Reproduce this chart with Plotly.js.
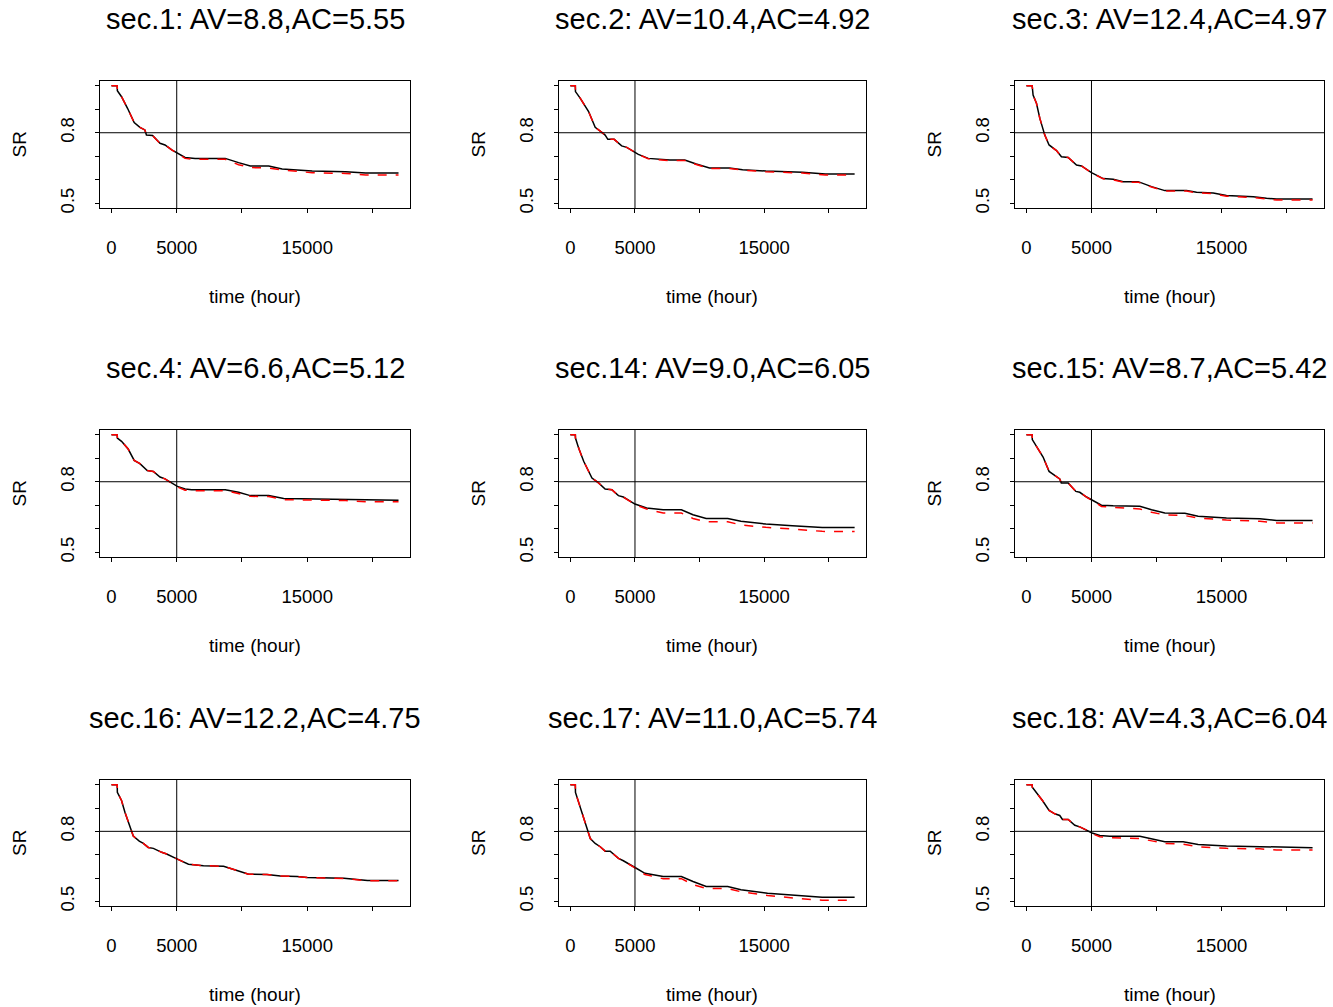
<!DOCTYPE html>
<html>
<head>
<meta charset="utf-8">
<script src="https://cdn.plot.ly/plotly-3.0.1.min.js"></script>
<style>html,body{margin:0;padding:0;background:#fff;}#chart{width:1333px;height:1007px;}</style>
</head>
<body>
<div id="chart"></div>
<script>
// ---- data ----
const panelTitles = ["sec.1: AV=8.8,AC=5.55", "sec.2: AV=10.4,AC=4.92", "sec.3: AV=12.4,AC=4.97",
                     "sec.4: AV=6.6,AC=5.12", "sec.14: AV=9.0,AC=6.05", "sec.15: AV=8.7,AC=5.42",
                     "sec.16: AV=12.2,AC=4.75", "sec.17: AV=11.0,AC=5.74", "sec.18: AV=4.3,AC=6.04"];
const xTickVals = [0, 5000, 10000, 15000, 20000];
const xTickText = ["0", "5000", "", "15000", ""];
const yTickVals = [0.5, 0.6, 0.7, 0.8, 0.9, 1.0];
const yTickText = ["0.5", "", "", "0.8", "", ""];
const xTitle = "time (hour)";
const yTitle = "SR";
const refTime = 5000;
const refSR = 0.8;

const sec1_t   = [0, 440, 450, 770, 1230, 1740, 2180, 2560, 2680, 3150, 3720, 4100, 4620, 5050, 5640, 6410, 8720, 9740, 10640, 12050, 13080, 15380, 17950, 19490, 22000];
const sec1_obs = [1.0, 1.0, 0.979, 0.953, 0.904, 0.843, 0.823, 0.812, 0.79, 0.788, 0.755, 0.748, 0.727, 0.715, 0.695, 0.691, 0.691, 0.673, 0.659, 0.659, 0.646, 0.637, 0.634, 0.629, 0.629];
const sec1_est = [1.0, 1.0, 0.979, 0.953, 0.904, 0.843, 0.823, 0.812, 0.79, 0.788, 0.755, 0.748, 0.727, 0.712, 0.691, 0.687, 0.687, 0.664, 0.652, 0.650, 0.642, 0.630, 0.627, 0.620, 0.620];

const sec2_t   = [0, 385, 395, 770, 1410, 1920, 2310, 2690, 2900, 3390, 3970, 4360, 5260, 6030, 7690, 8850, 9740, 10770, 12310, 13330, 15130, 17950, 19740, 22000];
const sec2_obs = [1.0, 1.0, 0.975, 0.946, 0.89, 0.823, 0.807, 0.79, 0.772, 0.772, 0.744, 0.738, 0.708, 0.691, 0.684, 0.684, 0.667, 0.65, 0.65, 0.643, 0.637, 0.632, 0.625, 0.625];
const sec2_est = [1.0, 1.0, 0.975, 0.946, 0.89, 0.823, 0.807, 0.79, 0.772, 0.772, 0.744, 0.738, 0.708, 0.689, 0.681, 0.682, 0.665, 0.648, 0.648, 0.641, 0.634, 0.629, 0.620, 0.620];

const sec3_t   = [0, 440, 510, 770, 1030, 1410, 1740, 2310, 2690, 3210, 3850, 4230, 5000, 5900, 6670, 7440, 8590, 9620, 10640, 12310, 13080, 14360, 15380, 17440, 18460, 19230, 22000];
const sec3_obs = [1.0, 1.0, 0.96, 0.925, 0.861, 0.79, 0.748, 0.724, 0.698, 0.695, 0.663, 0.659, 0.63, 0.605, 0.602, 0.592, 0.592, 0.571, 0.554, 0.554, 0.547, 0.544, 0.533, 0.528, 0.521, 0.518, 0.518];
const sec3_est = [1.0, 1.0, 0.96, 0.925, 0.861, 0.79, 0.748, 0.724, 0.698, 0.695, 0.663, 0.659, 0.63, 0.604, 0.600, 0.590, 0.590, 0.569, 0.552, 0.552, 0.545, 0.541, 0.530, 0.525, 0.518, 0.514, 0.514];

const sec4_t   = [0, 440, 450, 770, 1280, 1740, 2180, 2740, 3210, 3720, 4100, 4620, 5050, 5640, 6150, 8720, 9740, 10640, 12050, 13200, 15380, 17950, 19490, 22000];
const sec4_obs = [1.0, 1.0, 0.986, 0.972, 0.939, 0.891, 0.877, 0.848, 0.844, 0.82, 0.812, 0.795, 0.78, 0.769, 0.766, 0.766, 0.755, 0.741, 0.741, 0.729, 0.727, 0.725, 0.721, 0.721];
const sec4_est = [1.0, 1.0, 0.986, 0.972, 0.939, 0.891, 0.877, 0.848, 0.844, 0.82, 0.812, 0.795, 0.778, 0.764, 0.762, 0.762, 0.749, 0.738, 0.737, 0.724, 0.722, 0.720, 0.715, 0.715];

const sec14_t   = [0, 385, 395, 640, 1030, 1670, 2180, 2690, 3210, 3720, 4100, 5000, 5900, 7180, 8590, 9490, 10510, 12180, 13200, 15130, 17180, 18200, 19490, 22000];
const sec14_obs = [1.0, 1.0, 0.986, 0.943, 0.887, 0.816, 0.795, 0.769, 0.766, 0.741, 0.735, 0.705, 0.688, 0.681, 0.681, 0.66, 0.644, 0.644, 0.632, 0.62, 0.613, 0.61, 0.605, 0.605];
const sec14_est = [1.0, 1.0, 0.986, 0.943, 0.887, 0.816, 0.795, 0.769, 0.766, 0.741, 0.735, 0.703, 0.684, 0.667, 0.667, 0.644, 0.63, 0.63, 0.616, 0.606, 0.599, 0.595, 0.589, 0.588];

const sec15_t   = [0, 440, 450, 770, 1280, 1740, 2180, 2560, 2680, 3210, 3800, 4100, 4620, 5050, 5770, 6670, 8720, 9620, 10640, 12180, 13200, 15380, 17950, 19230, 22000];
const sec15_obs = [1.0, 1.0, 0.979, 0.95, 0.905, 0.844, 0.826, 0.812, 0.795, 0.795, 0.759, 0.755, 0.735, 0.721, 0.70, 0.698, 0.696, 0.681, 0.667, 0.666, 0.653, 0.646, 0.643, 0.635, 0.635];
const sec15_est = [1.0, 1.0, 0.979, 0.95, 0.905, 0.844, 0.826, 0.812, 0.795, 0.795, 0.759, 0.755, 0.735, 0.719, 0.695, 0.691, 0.684, 0.67, 0.659, 0.656, 0.646, 0.637, 0.632, 0.625, 0.625];

const sec16_t   = [0, 440, 450, 770, 1030, 1360, 1670, 2130, 2440, 2820, 3210, 3850, 4230, 5050, 5900, 7050, 8590, 9620, 10510, 11920, 12950, 14230, 15000, 17820, 18850, 19620, 22000];
const sec16_obs = [1.0, 1.0, 0.967, 0.932, 0.882, 0.833, 0.78, 0.758, 0.748, 0.731, 0.727, 0.71, 0.703, 0.681, 0.659, 0.653, 0.65, 0.632, 0.616, 0.615, 0.609, 0.606, 0.602, 0.599, 0.592, 0.589, 0.589];
const sec16_est = [1.0, 1.0, 0.967, 0.932, 0.882, 0.833, 0.78, 0.758, 0.748, 0.731, 0.727, 0.71, 0.703, 0.681, 0.659, 0.653, 0.65, 0.632, 0.616, 0.615, 0.609, 0.606, 0.602, 0.598, 0.591, 0.588, 0.588];

const sec17_t   = [0, 385, 395, 640, 1030, 1540, 1920, 2310, 2690, 3080, 3720, 4100, 5000, 5770, 7180, 8590, 9490, 10510, 12180, 13200, 15260, 17180, 18720, 19490, 22000];
const sec17_obs = [1.0, 1.0, 0.967, 0.925, 0.861, 0.769, 0.748, 0.734, 0.715, 0.715, 0.684, 0.674, 0.645, 0.62, 0.606, 0.606, 0.585, 0.564, 0.564, 0.55, 0.535, 0.528, 0.521, 0.518, 0.518];
const sec17_est = [1.0, 1.0, 0.967, 0.925, 0.861, 0.769, 0.748, 0.734, 0.715, 0.715, 0.684, 0.674, 0.643, 0.615, 0.597, 0.597, 0.572, 0.555, 0.555, 0.541, 0.525, 0.514, 0.507, 0.505, 0.504];

const sec18_t   = [0, 440, 450, 770, 1230, 1740, 2180, 2560, 2770, 3210, 3720, 4100, 4740, 5050, 5640, 6410, 8720, 9740, 10640, 12050, 13200, 15380, 17950, 19230, 22000];
const sec18_obs = [1.0, 1.0, 0.989, 0.967, 0.932, 0.89, 0.875, 0.868, 0.851, 0.851, 0.826, 0.819, 0.802, 0.793, 0.782, 0.779, 0.779, 0.765, 0.755, 0.755, 0.744, 0.737, 0.734, 0.731, 0.73];
const sec18_est = [1.0, 1.0, 0.989, 0.967, 0.932, 0.89, 0.875, 0.868, 0.851, 0.851, 0.826, 0.819, 0.802, 0.79, 0.777, 0.773, 0.769, 0.758, 0.748, 0.745, 0.734, 0.727, 0.725, 0.72, 0.72];

const panelData = [
  [sec1_t, sec1_obs, sec1_est], [sec2_t, sec2_obs, sec2_est], [sec3_t, sec3_obs, sec3_est],
  [sec4_t, sec4_obs, sec4_est], [sec14_t, sec14_obs, sec14_est], [sec15_t, sec15_obs, sec15_est],
  [sec16_t, sec16_obs, sec16_est], [sec17_t, sec17_obs, sec17_est], [sec18_t, sec18_obs, sec18_est]
];

// ---- layout geometry (pixels) ----
const W = 1333, H = 1007;
const colL = [100, 559, 1015], colR = [410, 866, 1324];
const rowT = [81, 430, 780], rowB = [208, 557, 906];
const FONT = "Liberation Sans, Arial, Helvetica, sans-serif";

const traces = [];
const layout = {
  width: W, height: H,
  margin: {l: 0, r: 0, t: 0, b: 0},
  paper_bgcolor: "#ffffff", plot_bgcolor: "#ffffff",
  showlegend: false,
  font: {family: FONT, color: "#000", size: 18},
  annotations: [], shapes: []
};

for (let i = 0; i < 9; i++) {
  const r = Math.floor(i / 3), c = i % 3;
  const n = i + 1;
  const xa = n === 1 ? "x" : "x" + n, ya = n === 1 ? "y" : "y" + n;
  const xk = n === 1 ? "xaxis" : "xaxis" + n, yk = n === 1 ? "yaxis" : "yaxis" + n;
  const [t, obs, est] = panelData[i];
  traces.push({x: t, y: obs, xaxis: xa, yaxis: ya, type: "scatter", mode: "lines",
               line: {color: "#000000", width: 1.5}, hoverinfo: "skip"});
  traces.push({x: t, y: est, xaxis: xa, yaxis: ya, type: "scatter", mode: "lines",
               line: {color: "#ff0000", width: 1.5, dash: "dash"}, hoverinfo: "skip"});
  layout[xk] = {
    domain: [colL[c] / W, colR[c] / W], anchor: ya,
    range: [-880, 22880], showgrid: false, zeroline: false,
    showline: true, mirror: true, linecolor: "#000", linewidth: 1,
    ticks: "outside", ticklen: 4, tickcolor: "#000", tickwidth: 1,
    tickvals: xTickVals, ticktext: xTickText, ticklabelstandoff: 19,
    tickfont: {family: FONT, size: 18.5, color: "#000"}
  };
  layout[yk] = {
    domain: [1 - rowB[r] / H, 1 - rowT[r] / H], anchor: xa,
    range: [0.48, 1.02], showgrid: false, zeroline: false,
    showline: true, mirror: true, linecolor: "#000", linewidth: 1,
    ticks: "outside", ticklen: 4, tickcolor: "#000", tickwidth: 1,
    tickvals: yTickVals, ticktext: yTickText, tickangle: -90, ticklabelstandoff: 14,
    tickfont: {family: FONT, size: 18.5, color: "#000"}
  };
  // reference lines
  layout.shapes.push({type: "line", xref: xa, yref: ya + " domain", x0: refTime, x1: refTime, y0: 0, y1: 1,
                      line: {color: "#000", width: 1}});
  layout.shapes.push({type: "line", xref: xa + " domain", yref: ya, x0: 0, x1: 1, y0: refSR, y1: refSR,
                      line: {color: "#000", width: 1}});
  const cx = (colL[c] + colR[c]) / 2;
  layout.annotations.push({text: panelTitles[i], xref: "paper", yref: "paper",
    x: cx / W, y: 1 - (rowT[r] - 62) / H, xanchor: "center", yanchor: "middle", showarrow: false,
    font: {family: FONT, size: 29, color: "#000"}});
  layout.annotations.push({text: xTitle, xref: "paper", yref: "paper",
    x: cx / W, y: 1 - (rowB[r] + 88) / H, xanchor: "center", yanchor: "middle", showarrow: false,
    font: {family: FONT, size: 19, color: "#000"}});
  layout.annotations.push({text: yTitle, xref: "paper", yref: "paper", textangle: -90,
    x: (colL[c] - 81) / W, y: 1 - ((rowT[r] + rowB[r]) / 2) / H, xanchor: "center", yanchor: "middle", showarrow: false,
    font: {family: FONT, size: 19, color: "#000"}});
}

Plotly.newPlot("chart", traces, layout, {staticPlot: true, displayModeBar: false});
</script>
</body>
</html>
